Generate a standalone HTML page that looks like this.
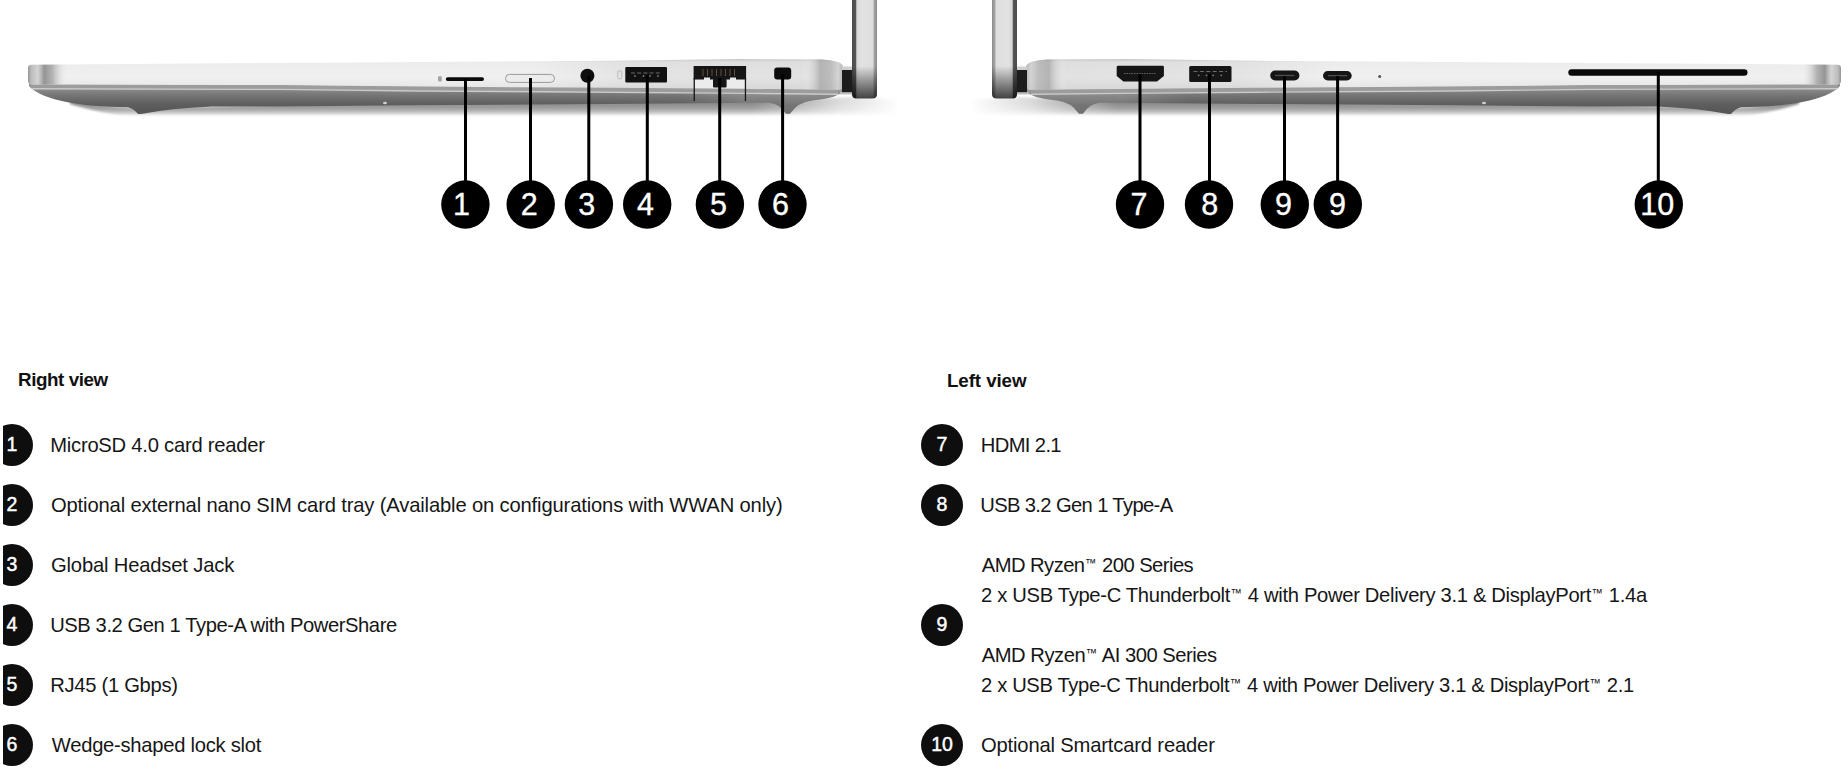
<!DOCTYPE html>
<html><head><meta charset="utf-8">
<style>
html,body{margin:0;padding:0;background:#fff;}
body{width:1848px;height:782px;overflow:hidden;position:relative;font-family:"Liberation Sans",sans-serif;color:#151515;}
#art{position:absolute;left:0;top:0;}
.h{position:absolute;font-weight:bold;font-size:18.8px;letter-spacing:-0.42px;line-height:20px;white-space:nowrap;color:#111;}
.t{position:absolute;font-size:20.2px;line-height:22px;white-space:nowrap;color:#161616;}
.c{position:absolute;width:42px;height:42px;border-radius:50%;background:#0e0e0e;color:#fff;font-weight:normal;-webkit-text-stroke:0.45px #fff;font-size:19.5px;line-height:40.8px;text-align:center;}
.tm{font-size:11.5px;position:relative;top:-5.5px;margin-left:0.5px;margin-right:0.5px;letter-spacing:0;}
#clip{position:absolute;left:3px;top:400px;width:60px;height:382px;overflow:hidden;}
</style></head>
<body>
<svg id="art" width="1848" height="260" viewBox="0 0 1848 260">
<defs>
  <linearGradient id="gUp" x1="0" y1="59" x2="0" y2="90" gradientUnits="userSpaceOnUse">
    <stop offset="0" stop-color="#d2d2d2"/>
    <stop offset="0.1" stop-color="#ececec"/>
    <stop offset="0.6" stop-color="#f0f0f0"/>
    <stop offset="1" stop-color="#e4e4e4"/>
  </linearGradient>
  <linearGradient id="gUpH" x1="28" y1="0" x2="843" y2="0" gradientUnits="userSpaceOnUse">
    <stop offset="0" stop-color="#8c8c8c" stop-opacity="0.9"/>
    <stop offset="0.004" stop-color="#b0b0b0" stop-opacity="0.8"/>
    <stop offset="0.012" stop-color="#c8c8c8" stop-opacity="0.7"/>
    <stop offset="0.02" stop-color="#8a8a8a" stop-opacity="0.9"/>
    <stop offset="0.03" stop-color="#9a9a9a" stop-opacity="0.7"/>
    <stop offset="0.05" stop-color="#ffffff" stop-opacity="0"/>
    <stop offset="0.95" stop-color="#ffffff" stop-opacity="0"/>
    <stop offset="0.972" stop-color="#9c9c9c" stop-opacity="0.65"/>
    <stop offset="0.985" stop-color="#a6a6a6" stop-opacity="0.6"/>
    <stop offset="0.994" stop-color="#c6c6c6" stop-opacity="0.5"/>
    <stop offset="1" stop-color="#9a9a9a" stop-opacity="0.6"/>
  </linearGradient>
  <linearGradient id="gLow" x1="0" y1="88" x2="0" y2="110" gradientUnits="userSpaceOnUse">
    <stop offset="0" stop-color="#8e8e8e"/>
    <stop offset="0.35" stop-color="#747474"/>
    <stop offset="0.75" stop-color="#5e5e5e"/>
    <stop offset="1" stop-color="#585858"/>
  </linearGradient>
  <linearGradient id="gLowH" x1="28" y1="0" x2="843" y2="0" gradientUnits="userSpaceOnUse">
    <stop offset="0" stop-color="#ffffff" stop-opacity="0"/>
    <stop offset="0.8" stop-color="#ffffff" stop-opacity="0"/>
    <stop offset="0.88" stop-color="#ffffff" stop-opacity="0.15"/>
    <stop offset="1" stop-color="#ffffff" stop-opacity="0.15"/>
  </linearGradient>
  <linearGradient id="gLid" x1="852" y1="0" x2="877" y2="0" gradientUnits="userSpaceOnUse">
    <stop offset="0" stop-color="#4a4a4a"/>
    <stop offset="0.15" stop-color="#555555"/>
    <stop offset="0.19" stop-color="#d4d4d4"/>
    <stop offset="0.35" stop-color="#e2e2e2"/>
    <stop offset="0.84" stop-color="#dedede"/>
    <stop offset="0.88" stop-color="#a8a8a8"/>
    <stop offset="1" stop-color="#8a8a8a"/>
  </linearGradient>
  <linearGradient id="gLidV" x1="0" y1="66" x2="0" y2="99" gradientUnits="userSpaceOnUse">
    <stop offset="0" stop-color="#000" stop-opacity="0"/>
    <stop offset="0.4" stop-color="#000" stop-opacity="0.3"/>
    <stop offset="1" stop-color="#000" stop-opacity="0.72"/>
  </linearGradient>
  <linearGradient id="gUpT" x1="28" y1="0" x2="843" y2="0" gradientUnits="userSpaceOnUse">
    <stop offset="0" stop-color="#000" stop-opacity="0"/>
    <stop offset="0.62" stop-color="#000" stop-opacity="0"/>
    <stop offset="0.74" stop-color="#000" stop-opacity="0.05"/>
    <stop offset="1" stop-color="#000" stop-opacity="0.06"/>
  </linearGradient>
  <linearGradient id="gMaskSh" x1="28" y1="0" x2="900" y2="0" gradientUnits="userSpaceOnUse">
    <stop offset="0" stop-color="#fff"/>
    <stop offset="0.83" stop-color="#fff"/>
    <stop offset="0.93" stop-color="#fff" stop-opacity="0.3"/>
    <stop offset="1" stop-color="#fff" stop-opacity="0"/>
  </linearGradient>
  <mask id="mSh" maskUnits="userSpaceOnUse" x="0" y="0" width="1000" height="200"><rect x="0" y="0" width="1000" height="200" fill="url(#gMaskSh)"/></mask>
  <filter id="blur" x="-10%" y="-300%" width="120%" height="700%"><feGaussianBlur stdDeviation="3.2"/></filter>
  <filter id="blur2" x="-10%" y="-300%" width="120%" height="700%"><feGaussianBlur stdDeviation="1.2"/></filter>
  <path id="upp" d="M 28,68 Q 28,64.8 31.5,64.7 L 280,62.9 L 420,62.1 L 612,60.8 L 740,59 L 822,59.6 Q 843,61 843,67 L 843,85.5 Q 843,89.8 838,89.8 L 750,89 L 612,87.8 L 420,86.6 L 280,85 L 32,84.4 Q 28,84.3 28,81 Z"/>
  <path id="lowp" d="M 29,84 L 843,88 L 843,91 Q 838,98 812,100.5 Q 798,102 790,113.7 L 786,113.7 Q 780,104 770,102.7 L 612,104 L 420,105.3 L 280,106.4 L 212,106.6 Q 170,108.5 141,114 L 138,114 Q 134,109 128,107.3 L 110,106.8 C 64,104.5 38,96.5 29,86 Z"/>
  <path id="lidp" d="M 852,0 L 877,0 L 877,94 Q 877,98.5 872,98.5 L 857,98.5 Q 852,98.5 852,94 Z"/>
  <g id="chassis">
    <!-- shadow -->
    <linearGradient id="gSh" x1="0" y1="103" x2="0" y2="117" gradientUnits="userSpaceOnUse"><stop offset="0" stop-color="#888888"/><stop offset="0.45" stop-color="#a6a6a6"/><stop offset="0.75" stop-color="#d2d2d2"/><stop offset="1" stop-color="#ffffff" stop-opacity="0"/></linearGradient>
    <path d="M 70,98 C 90,104 110,107 140,108 L 280,105 L 612,102.5 L 780,100.5 L 850,97 L 905,100 L 905,116 L 140,117 C 110,115 90,110 70,104 Z" fill="url(#gSh)" filter="url(#blur2)" mask="url(#mSh)"/>
    <!-- lower body -->
    <use href="#lowp" fill="url(#gLow)"/><use href="#lowp" fill="url(#gLowH)"/>
    
    <!-- gray line + highlight along band bottom -->
    <polyline points="31,86.15 280,86.85 420,88.45 612,89.65 750,90.85 838,91.65" fill="none" stroke="#9c9c9c" stroke-width="3.7"/>
    <polyline points="32,88.7 280,89.4 420,91 612,92.2 750,93.4 838,94.2" fill="none" stroke="#cbcbcb" stroke-width="1.4"/>
    <!-- upper band -->
    <use href="#upp" fill="url(#gUp)"/><use href="#upp" fill="url(#gUpT)"/><use href="#upp" fill="url(#gUpH)"/>
    
    <ellipse cx="385" cy="103" rx="2" ry="1.2" fill="#cfcfcf"/>
    <!-- hinge -->
    <rect x="842" y="67.5" width="10.5" height="26.2" fill="#1c1c1c"/>
    <rect x="842" y="66.5" width="10.5" height="3.5" fill="#cfcfcf"/>
    <rect x="840" y="92.2" width="12.5" height="2.3" fill="#bdbdbd"/>
    <!-- lid -->
    <use href="#lidp" fill="url(#gLid)"/><use href="#lidp" fill="url(#gLidV)"/>
    
  </g>
</defs>
<use href="#chassis"/>
<use href="#chassis" transform="translate(1869,0) scale(-1,1)"/>

<!-- right view ports -->
<rect x="438" y="76.2" width="3.8" height="5.2" rx="0.8" fill="#a4a4a4"/>
<rect x="445.8" y="77.2" width="38.2" height="3.8" rx="1.9" fill="#0a0a0a"/>
<rect x="505.5" y="74.4" width="49" height="8" rx="4" fill="#ececec" stroke="#9a9a9a" stroke-width="1"/>
<circle cx="587.4" cy="75.7" r="7" fill="#0e0e0e"/>
<rect x="617.8" y="70.8" width="4" height="8" rx="1.2" fill="none" stroke="#b4b4b4" stroke-width="0.9"/>
<rect x="625.3" y="66.9" width="41.7" height="15.6" rx="1" fill="#111"/>
<path d="M 631,73 L 662,73" stroke="#6a6a6a" stroke-width="1.2" stroke-dasharray="4 2.2"/>
<g fill="#7a7a7a"><circle cx="635" cy="76" r="0.9"/><circle cx="643.5" cy="76" r="0.9"/><circle cx="650" cy="76" r="0.9"/><circle cx="658" cy="76" r="0.9"/></g>
<rect x="695" y="79.5" width="50" height="8.5" fill="#ececec"/>
<g fill="#151515">
  <rect x="693.6" y="66" width="52.5" height="13.5"/>
  <rect x="713" y="79" width="13.6" height="8.5" rx="1"/>
  <rect x="693.6" y="78" width="1.3" height="23"/>
  <rect x="744.8" y="78" width="1.3" height="23"/>
</g>
<g stroke="#6e604a" stroke-width="0.8"><path d="M 703,69 V 76 M 707.5,69 V 76 M 712,69 V 76 M 716.5,69 V 76 M 721,69 V 76 M 725.5,69 V 76 M 730,69 V 76 M 734.5,69 V 76"/></g>
<rect x="704" y="77.5" width="6" height="2.5" fill="#e8e8e8"/>
<rect x="730" y="77.5" width="6" height="2.5" fill="#e8e8e8"/>
<rect x="774.2" y="67.5" width="17" height="12" rx="3" fill="#0c0c0c"/>

<!-- left view ports -->
<path d="M 1116.7,67 Q 1116.7,65.7 1118,65.7 L 1162.6,65.7 Q 1163.9,65.7 1163.9,67 L 1163.9,76 L 1157,81.6 L 1123.4,81.6 L 1116.7,76 Z" fill="#151515"/>
<path d="M 1124,73.5 L 1156,73.5" stroke="#5e5e5e" stroke-width="1.2" stroke-dasharray="1.6 0.9"/>
<rect x="1189.2" y="66.1" width="42.3" height="15.9" rx="1.5" fill="#151515"/>
<path d="M 1193.5,71.5 L 1227,71.5" stroke="#6a6a6a" stroke-width="1.2" stroke-dasharray="4 2.4"/>
<g fill="#7a7a7a"><circle cx="1198.7" cy="75.3" r="0.9"/><circle cx="1206.5" cy="75.3" r="0.9"/><circle cx="1213.2" cy="75.3" r="0.9"/><circle cx="1221.3" cy="75.3" r="0.9"/></g>
<rect x="1270.2" y="70.5" width="29.2" height="10" rx="5" fill="#151515"/>
<rect x="1275" y="74.8" width="19.5" height="1.3" fill="#4e4e4e"/>
<rect x="1323" y="71" width="28.7" height="9.5" rx="4.75" fill="#151515"/>
<rect x="1328" y="75" width="19" height="1.3" fill="#4e4e4e"/>
<circle cx="1379.7" cy="76.4" r="1.5" fill="#555"/>
<rect x="1568.3" y="69.2" width="179.2" height="6.6" rx="3.3" fill="#0a0a0a"/>

<!-- leader lines -->
<g fill="#000">
  <rect x="464" y="79" width="3" height="103"/>
  <rect x="529" y="78" width="3" height="104"/>
  <rect x="587.3" y="76" width="3" height="106"/>
  <rect x="645.8" y="75" width="3" height="107"/>
  <rect x="718.2" y="78" width="3" height="104"/>
  <rect x="781.1" y="74" width="3" height="108"/>
  <rect x="1138.5" y="74" width="3" height="108"/>
  <rect x="1208" y="74" width="3" height="108"/>
  <rect x="1283" y="76" width="3" height="106"/>
  <rect x="1336.1" y="76" width="3" height="106"/>
  <rect x="1656.8" y="72" width="3" height="110"/>
</g>
<!-- number circles -->
<g fill="#000">
  <circle cx="465.4" cy="204.5" r="24.2"/>
  <circle cx="530.7" cy="204.5" r="24.2"/>
  <circle cx="588.9" cy="204.5" r="24.2"/>
  <circle cx="647.2" cy="204.5" r="24.2"/>
  <circle cx="719.9" cy="204.5" r="24.2"/>
  <circle cx="782.5" cy="204.5" r="24.2"/>
  <circle cx="1140" cy="204.5" r="24.2"/>
  <circle cx="1209" cy="204.5" r="24.2"/>
  <circle cx="1284.8" cy="204.5" r="24.2"/>
  <circle cx="1337.8" cy="204.5" r="24.2"/>
  <circle cx="1658.8" cy="204.5" r="24.2"/>
</g>
<g fill="#fff" stroke="#fff" stroke-width="0.35" font-family="Liberation Sans" font-size="30.5" text-anchor="middle">
  <text x="461.6" y="214.9">1</text>
  <text x="529.2" y="214.9">2</text>
  <text x="586.8" y="214.9">3</text>
  <text x="645.4" y="214.9">4</text>
  <text x="718.4" y="214.9">5</text>
  <text x="780.4" y="214.9">6</text>
  <text x="1139.0" y="214.9">7</text>
  <text x="1209.8" y="214.9">8</text>
  <text x="1283.6" y="214.9">9</text>
  <text x="1337.4" y="214.9">9</text>
  <text x="1657.3" y="214.9">10</text>
</g>
</svg>

<div class="h" style="left:18px;top:370px;">Right view</div>
<div class="h" style="left:947px;top:371px;letter-spacing:-0.1px;">Left view</div>

<div id="clip">
  <div class="c" style="left:-12px;top:24px;">1</div>
  <div class="c" style="left:-12px;top:84px;">2</div>
  <div class="c" style="left:-12px;top:144px;">3</div>
  <div class="c" style="left:-12px;top:204px;">4</div>
  <div class="c" style="left:-12px;top:264px;">5</div>
  <div class="c" style="left:-12px;top:324px;">6</div>
</div>

<div class="t" style="left:50.20px;letter-spacing:-0.232px;top:434px;">MicroSD 4.0 card reader</div>
<div class="t" style="left:51.00px;letter-spacing:-0.153px;top:494px;">Optional external nano SIM card tray (Available on configurations with WWAN only)</div>
<div class="t" style="left:51.00px;letter-spacing:-0.169px;top:554px;">Global Headset Jack</div>
<div class="t" style="left:50.20px;letter-spacing:-0.431px;top:614px;">USB 3.2 Gen 1 Type-A with PowerShare</div>
<div class="t" style="left:50.20px;letter-spacing:-0.292px;top:674px;">RJ45 (1 Gbps)</div>
<div class="t" style="left:51.80px;letter-spacing:-0.264px;top:734px;">Wedge-shaped lock slot</div>

<div class="c" style="left:921px;top:424px;">7</div>
<div class="c" style="left:921px;top:484px;">8</div>
<div class="c" style="left:921px;top:604px;">9</div>
<div class="c" style="left:921px;top:724px;">10</div>

<div class="t" style="left:980.84px;letter-spacing:-0.643px;top:434px;">HDMI 2.1</div>
<div class="t" style="left:980.20px;letter-spacing:-0.632px;top:494px;">USB 3.2 Gen 1 Type-A</div>
<div class="t" style="left:981.80px;letter-spacing:-0.550px;top:554px;">AMD Ryzen<span class="tm">™</span> 200 Series</div>
<div class="t" style="left:981.00px;letter-spacing:-0.319px;top:584px;">2 x USB Type-C Thunderbolt<span class="tm">™</span> 4 with Power Delivery 3.1 &amp; DisplayPort<span class="tm">™</span> 1.4a</div>
<div class="t" style="left:981.80px;letter-spacing:-0.480px;top:644px;">AMD Ryzen<span class="tm">™</span> AI 300 Series</div>
<div class="t" style="left:981.00px;letter-spacing:-0.349px;top:674px;">2 x USB Type-C Thunderbolt<span class="tm">™</span> 4 with Power Delivery 3.1 &amp; DisplayPort<span class="tm">™</span> 2.1</div>
<div class="t" style="left:981.00px;letter-spacing:-0.167px;top:734px;">Optional Smartcard reader</div>
</body></html>
